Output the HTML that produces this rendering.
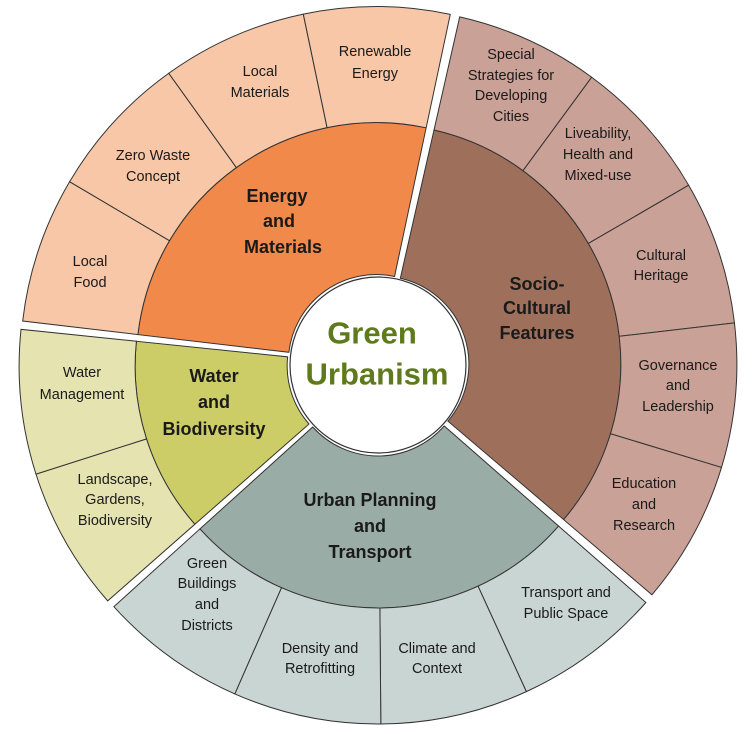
<!DOCTYPE html>
<html><head><meta charset="utf-8"><style>
html,body{margin:0;padding:0;background:#fff;width:753px;height:734px;overflow:hidden}
svg{display:block}
text{font-family:"Liberation Sans",sans-serif;text-anchor:middle;dominant-baseline:central;fill:#1a1a1a}
.o{font-size:14.5px}
.m{font-size:18px;font-weight:bold}
</style></head><body>
<svg id="s" width="753" height="734" viewBox="0 0 753 734">
<g id="shapes"></g>
<circle cx="378" cy="365" r="88" fill="#fff" stroke="#333" stroke-width="1.2"/>
<text x="372" y="333" style="font-size:31px;font-weight:bold;fill:#5f7a1c">Green</text>
<text x="377" y="374" style="font-size:31px;font-weight:bold;fill:#5f7a1c">Urbanism</text>

<text class="m" x="277" y="196">Energy</text>
<text class="m" x="279" y="221">and</text>
<text class="m" x="283" y="247">Materials</text>
<text class="m" x="537" y="284">Socio-</text>
<text class="m" x="537" y="308">Cultural</text>
<text class="m" x="537" y="333">Features</text>
<text class="m" x="214" y="376">Water</text>
<text class="m" x="214" y="402">and</text>
<text class="m" x="214" y="429">Biodiversity</text>
<text class="m" x="370" y="500">Urban Planning</text>
<text class="m" x="370" y="526">and</text>
<text class="m" x="370" y="552">Transport</text>

<text class="o" x="90" y="262">Local</text><text class="o" x="90" y="283">Food</text>
<text class="o" x="153" y="156">Zero Waste</text><text class="o" x="153" y="177">Concept</text>
<text class="o" x="260" y="72">Local</text><text class="o" x="260" y="93">Materials</text>
<text class="o" x="375" y="52">Renewable</text><text class="o" x="375" y="74">Energy</text>
<text class="o" x="511" y="55">Special</text><text class="o" x="511" y="76">Strategies for</text><text class="o" x="511" y="96">Developing</text><text class="o" x="511" y="117">Cities</text>
<text class="o" x="598" y="134">Liveability,</text><text class="o" x="598" y="155">Health and</text><text class="o" x="598" y="176">Mixed-use</text>
<text class="o" x="661" y="256">Cultural</text><text class="o" x="661" y="276">Heritage</text>
<text class="o" x="678" y="366">Governance</text><text class="o" x="678" y="386">and</text><text class="o" x="678" y="407">Leadership</text>
<text class="o" x="644" y="484">Education</text><text class="o" x="644" y="505">and</text><text class="o" x="644" y="526">Research</text>
<text class="o" x="566" y="593">Transport and</text><text class="o" x="566" y="614">Public Space</text>
<text class="o" x="437" y="649">Climate and</text><text class="o" x="437" y="669">Context</text>
<text class="o" x="320" y="649">Density and</text><text class="o" x="320" y="669">Retrofitting</text>
<text class="o" x="207" y="564">Green</text><text class="o" x="207" y="584">Buildings</text><text class="o" x="207" y="605">and</text><text class="o" x="207" y="626">Districts</text>
<text class="o" x="115" y="480">Landscape,</text><text class="o" x="115" y="500">Gardens,</text><text class="o" x="115" y="521">Biodiversity</text>
<text class="o" x="82" y="373">Water</text><text class="o" x="82" y="395">Management</text>
</svg>
<script>
var cx=378,cy=365,RI=88,RM=240,RO=356;
function pt(r,a,ox,oy){var t=a*Math.PI/180;return [(cx+ox+r*Math.sin(t)).toFixed(2),(cy+oy-r*Math.cos(t)).toFixed(2)];}
function arc(r1,r2,a1,a2,ox,oy){var p1=pt(r2,a1,ox,oy),p2=pt(r2,a2,ox,oy),p3=pt(r1,a2,ox,oy),p4=pt(r1,a1,ox,oy);var lg=(a2-a1)>180?1:0;
return "M"+p1+" A"+r2+","+r2+" 0 "+lg+" 1 "+p2+" L"+p3+" A"+r1+","+r1+" 0 "+lg+" 0 "+p4+" Z";}
var secs=[[276.3,372.4,"#f0894a","#f7c7a8",4],[12.4,130.8,"#9e705c","#caa196",5],[130.8,228.3,"#9aaca6","#c9d5d2",4],[228.3,276.3,"#cdcd68","#e5e4b1",2]];
var h="";
secs.forEach(function(s){var mid=(s[0]+s[1])/2*Math.PI/180,ox=3*Math.sin(mid),oy=-3*Math.cos(mid);
var a1=s[0]+0.4,a2=s[1]-0.4;
h+='<path d="'+arc(RI,RM,a1,a2,ox,oy)+'" fill="'+s[2]+'" stroke="#333" stroke-width="1"/>';
var step=(a2-a1)/s[4];
for(var i=0;i<s[4];i++){h+='<path d="'+arc(RM,RO,a1+i*step,a1+(i+1)*step,ox,oy)+'" fill="'+s[3]+'" stroke="#333" stroke-width="1"/>';}
});
document.getElementById("shapes").innerHTML=h;
</script>
</body></html>
